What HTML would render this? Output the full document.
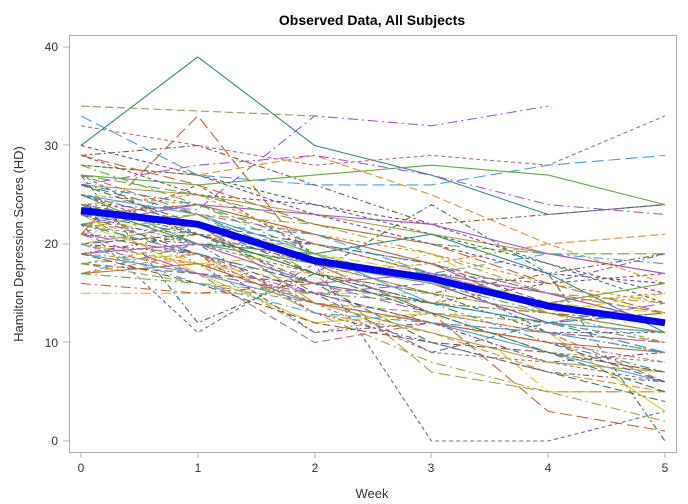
<!DOCTYPE html>
<html><head><style>
body{margin:0;background:#fff;width:688px;height:499px;overflow:hidden;font-family:"Liberation Sans",sans-serif}
</style></head><body>
<svg width="688" height="499" xmlns="http://www.w3.org/2000/svg" font-family="Liberation Sans, sans-serif">
<rect width="688" height="499" fill="#fff"/>
<text x="372" y="25" font-size="14" font-weight="bold" text-anchor="middle" fill="#000">Observed Data, All Subjects</text>
<text x="372" y="498" font-size="13" text-anchor="middle" fill="#333">Week</text>
<text transform="translate(23,244) rotate(-90)" font-size="13" text-anchor="middle" fill="#333">Hamilton Depression Scores (HD)</text>
<g font-size="12" fill="#333">
<text x="58" y="445" text-anchor="end">0</text>
<text x="58" y="347" text-anchor="end">10</text>
<text x="58" y="248" text-anchor="end">20</text>
<text x="58" y="150" text-anchor="end">30</text>
<text x="58" y="51" text-anchor="end">40</text>
<text x="81" y="472" text-anchor="middle">0</text>
<text x="198" y="472" text-anchor="middle">1</text>
<text x="315" y="472" text-anchor="middle">2</text>
<text x="431" y="472" text-anchor="middle">3</text>
<text x="548" y="472" text-anchor="middle">4</text>
<text x="665" y="472" text-anchor="middle">5</text>
</g>
<g stroke="#aab0b5" stroke-width="1">
<line x1="63" y1="441" x2="69" y2="441"/><line x1="63" y1="342" x2="69" y2="342"/><line x1="63" y1="244" x2="69" y2="244"/><line x1="63" y1="145" x2="69" y2="145"/><line x1="63" y1="47" x2="69" y2="47"/>
<line x1="81" y1="452" x2="81" y2="458"/><line x1="198" y1="452" x2="198" y2="458"/><line x1="315" y1="452" x2="315" y2="458"/><line x1="431" y1="452" x2="431" y2="458"/><line x1="548" y1="452" x2="548" y2="458"/><line x1="665" y1="452" x2="665" y2="458"/>
</g>
<g id="lines" fill="none" stroke-width="1.1"></g>
<rect x="69.5" y="35.5" width="607" height="417" fill="none" stroke="#aab0b5"/>
</svg>
<script>
var data=[
[30,39,30,27,23,24],[34,33.5,33,null,null,null],[24,23.5,33,32,34,null],[32,30,28,29,28,33],[33,27,26,26,28,29],[29,30,26,22,23,24],
[27,26,27,28,27,24],[28,27,29,25,20,21],[15,15,15,15,5,5],[22,11,18,0,0,3],[21,33,18,13,3,1],[27,12,17,24,17,0],
[26,25,23,21,19,17],[24,22,20,18,14,12],[23,21,17,14,10,7],[22,20,17,15,13,11],[21,19,16,13,11,10],[20,18,15,12,10,8],
[19,17,14,12,9,6],[18,17,16,14,12,11],[17,16,15,14,13,12],[25,24,21,19,16,14],[22,22,19,17,15,13],[21,20,20,17,16,19],
[23,24,21,18,13,11],[20,21,16,10,7,4],[18,19,13,8,5,2],[29,25,24,22,18,15],[26,23,18,16,12,9],[24,18,11,13,9,7],
[22,24,23,22,19,17],[20,17,10,12,11,6],[17,20,18,17,19,18],[21,26,19,16,12,13],[27,25,22,20,19,19],[19,18,17,18,20,16],
[23,17,12,13,11,3],[25,22,15,9,12,10],[16,15,16,14,13,12],[28,27,24,21,18,14],[22,23,17,7,5,5],[20,19,11,12,8,9],
[24,20,19,21,17,11],[18,16,14,13,12,10],[26,28,29,27,24,23],[21,19,14,9,8,6],[23,22,21,17,14,12],[19,21,18,15,17,19],
[25,20,18,16,14,16],[17,19,13,11,7,5],[22,18,16,19,13,15],[27,21,20,17,11,11],
[29,26,22,20,16,13],[24,21,17,15,11,9],[20,22,14,11,8,7],[23,19,15,12,10,6],[26,24,20,18,15,12],[18,20,17,13,9,8],
[21,17,15,16,12,14],[22,21,18,13,11,10],[25,23,19,14,12,11],[19,16,12,10,9,7],[28,24,19,16,13,11],[24,25,20,17,14,15],
[20,18,19,16,14,13],[23,20,13,10,7,6],[17,18,14,12,10,9],[26,22,17,13,9,5],[21,23,22,19,15,14],[30,27,23,20,17,16],
[22,19,16,14,12,13],[24,22,18,15,13,10],[19,20,16,17,15,12],[27,23,21,18,15,13],[20,16,13,12,11,9],[25,21,17,14,16,17]
];
var cols=["#2e8b8b","#9a9a50","#a855d6","#b0707a","#3fa2e8","#8a5a3a","#5fae3e","#e0902c","#d6c820","#6a6a9a","#c06a30","#3a7a5a","#b0a040","#7a4a9a"];
var dashes=["","8 4","10 4 2 4","4 3","12 5","6 3 2 3"];
var X=function(w){return 81+116.8*w},Y=function(v){return 441-9.85*v};
var g=document.getElementById("lines"),h="";
data.forEach(function(d,i){var p=[];d.forEach(function(v,w){if(v!=null)p.push(X(w).toFixed(1)+","+Y(v).toFixed(1))});
h+='<polyline points="'+p.join(" ")+'" stroke="'+cols[i%cols.length]+'" stroke-dasharray="'+dashes[(i*7)%dashes.length]+'"/>';});
var m=[23.4,22,18.3,16.5,13.7,12],p=m.map(function(v,w){return X(w)+","+Y(v)});
h+='<polyline points="'+p.join(" ")+'" stroke="#0000ff" stroke-width="7" stroke-linejoin="round"/>';
g.innerHTML=h;
</script>
</body></html>
